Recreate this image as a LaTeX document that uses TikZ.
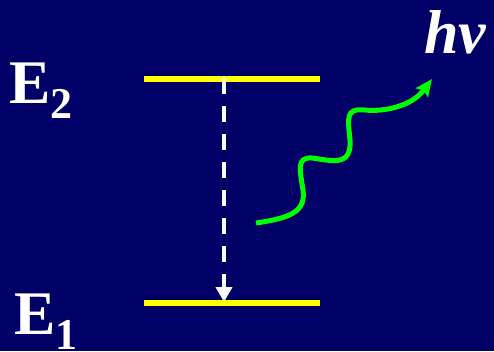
\documentclass[tikz,border=0pt]{standalone}
\usepackage{fontspec}
\setmainfont{Liberation Serif}
\usetikzlibrary{arrows.meta}
\definecolor{bgnavy}{RGB}{0,0,102}
\definecolor{lvlyellow}{RGB}{255,255,0}
\definecolor{photgreen}{RGB}{0,255,0}
\tikzset{
  level/.style={draw=lvlyellow, line width=6pt},
  lbl/.style={text=white, inner sep=0pt, anchor=base west, font=\bfseries\fontsize{62}{62}\selectfont},
}
\begin{document}
\begin{tikzpicture}[x=1pt,y=-1pt]
\useasboundingbox (0,0) rectangle (494,351);
\fill[bgnavy] (0,0) rectangle (494,351);
% levels
\coordinate (e2l) at (144,79);
\coordinate (e2r) at (320,79);
\coordinate (e1l) at (144,303);
\coordinate (e1r) at (320,303);
\draw[level] (e2l) -- (e2r);
\draw[level] (e1l) -- (e1r);
% dashed transition
\coordinate (ta) at (224,78);
\coordinate (tb) at (224,302);
\draw[white, line width=4pt, dash pattern=on 16pt off 12pt,
  -{Triangle[length=15pt,width=16pt]}] (ta) -- (tb);
% photon
\coordinate (ps) at (256,223);
\coordinate (pe) at (432,79);
\draw[photgreen, line width=5pt, -{Stealth[length=17pt,width=15pt,inset=3pt]}]
  (ps) .. controls (290,218) and (306,212) .. (303,190)
  .. controls (300,170) and (296,157) .. (312,158)
  .. controls (330,160) and (352,168) .. (350,140)
  .. controls (348,118) and (345,108) .. (365,110)
  .. controls (385,112) and (412,106) .. (pe);
% labels
\node[lbl] (E2) at (9,103) {E\raisebox{-15pt}{\fontsize{44}{44}\selectfont 2}};
\node[lbl] (E1) at (14,334) {E\raisebox{-15pt}{\fontsize{44}{44}\selectfont 1}};
\node[lbl, font=\bfseries\itshape\fontsize{62}{62}\selectfont] (hv) at (424,53) {hv};
\end{tikzpicture}
\end{document}
